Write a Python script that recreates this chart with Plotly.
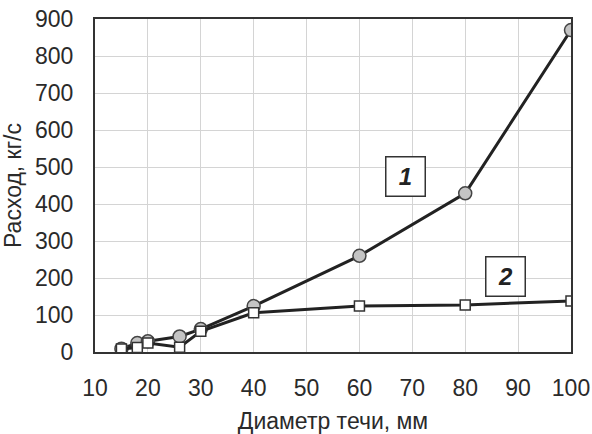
import plotly.graph_objects as go

diam = [15, 18, 20, 26, 30, 40, 60, 80, 100]
flow1 = [9, 24, 29, 42, 62, 124, 260, 429, 870]
flow2 = [8, 12, 24, 13, 56, 106, 124, 127, 138]
x_ticks = [10, 20, 30, 40, 50, 60, 70, 80, 90, 100]
y_ticks = [0, 100, 200, 300, 400, 500, 600, 700, 800, 900]

fig = go.Figure()
fig.add_trace(go.Scatter(
    x=diam, y=flow1, mode="lines+markers",
    line=dict(color="#222222", width=3),
    marker=dict(symbol="circle", size=13, color="#c4c4c4", line=dict(color="#444444", width=1.5)),
    showlegend=False, hoverinfo="skip"))
fig.add_trace(go.Scatter(
    x=diam, y=flow2, mode="lines+markers",
    line=dict(color="#222222", width=3),
    marker=dict(symbol="square", size=10, color="white", line=dict(color="#333333", width=1.5)),
    showlegend=False, hoverinfo="skip"))

font = dict(family="Liberation Sans, Arial, sans-serif", size=23, color="#2a2a2a")

fig.update_layout(
    width=592, height=434,
    margin=dict(l=95, r=21, t=19, b=82),
    paper_bgcolor="white", plot_bgcolor="white",
    font=font,
    xaxis=dict(range=[10, 100], tickvals=x_ticks, showgrid=True, gridcolor="#d4d4d4", gridwidth=1,
               showline=True, linecolor="#333333", linewidth=2, mirror=True, zeroline=False,
               ticks="", ticklen=0, ticklabelstandoff=14, automargin=False,
               title=dict(text="Диаметр течи, мм", font=font)),
    yaxis=dict(range=[0, 900], tickvals=y_ticks, showgrid=True, gridcolor="#d4d4d4", gridwidth=1,
               showline=True, linecolor="#333333", linewidth=2, mirror=True, zeroline=False,
               ticks="", ticklen=0, ticklabelstandoff=15, automargin=False,
               title=dict(text="Расход, кг/с", font=font)),
    annotations=[
        dict(x=68.8, y=473, xref="x", yref="y", text="<b><i>1</i></b>", showarrow=False,
             font=dict(family="Liberation Sans, Arial, sans-serif", size=24, color="#222222"),
             bgcolor="white", bordercolor="#333333", borderwidth=1.5, width=36, height=36),
        dict(x=87.7, y=205, xref="x", yref="y", text="<b><i>2</i></b>", showarrow=False,
             font=dict(family="Liberation Sans, Arial, sans-serif", size=24, color="#222222"),
             bgcolor="white", bordercolor="#333333", borderwidth=1.5, width=36, height=36),
    ],
)

fig.write_html("out.html", config={"displayModeBar": False},
               post_script="document.body.style.margin='0';")
